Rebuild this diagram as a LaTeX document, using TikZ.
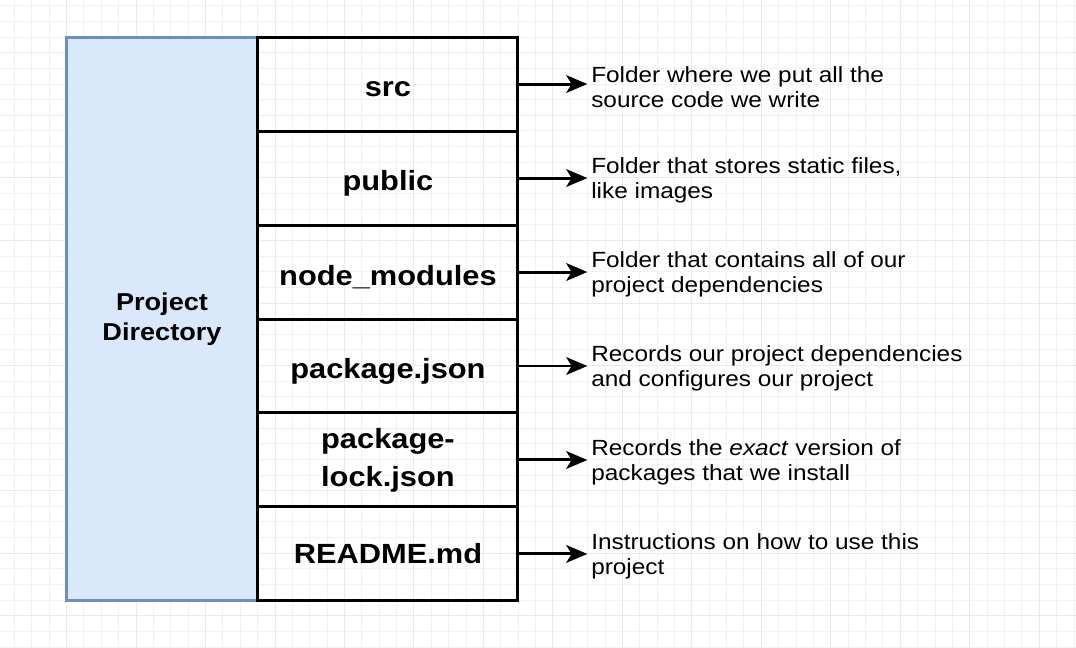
\documentclass[tikz,border=0pt]{standalone}
\usepackage{fontspec}
\setmainfont{Liberation Sans}[FakeStretch=1.11]
\usetikzlibrary{positioning,arrows.meta}

\definecolor{dirfill}{HTML}{DAE8FC}
\definecolor{dirline}{HTML}{6C8EBF}
\definecolor{gridminor}{HTML}{F2F2F2}
\definecolor{gridmajor}{HTML}{EAEAEA}

% lower a box label a little without changing the node size
\newcommand{\lowered}[1]{\raisebox{-3pt}[\height][\depth]{#1}}

\begin{document}
\begin{tikzpicture}[
      x=0.02cm, y=-0.02cm,
      node distance=0pt,
      folder/.style={
        rectangle, draw, line width=1.7pt,
        outer sep=0pt, inner sep=0pt,
        align=center,
        minimum width=5.2cm,
        minimum height=1.88cm,
        font=\fontsize{15.8}{21.6}\selectfont\bfseries
      },
      note/.style={
        align=left, inner sep=0pt, yshift=-1.5pt,
        font=\fontsize{12.5}{14.2}\selectfont
      },
      pointer/.style={-{Stealth[length=12pt,width=10pt,inset=3pt]}, line width=1.7pt, shorten >=2pt}
    ]

    \useasboundingbox (0,0) rectangle (1076,647);

    % background grid of the drawing canvas
    \foreach \k in {-3,...,58}
        \draw[gridminor, line width=0.5pt] ({66.5+17.37*\k},0) -- ++(0,647);
    \foreach \k in {-3,...,38}
        \draw[gridminor, line width=0.5pt] (0,{52.7+15.64*\k}) -- ++(1076,0);
    \foreach \k in {-1,...,14}
        \draw[gridmajor, line width=0.5pt] ({66.5+69.48*\k},0) -- ++(0,647);
    \foreach \k in {-1,...,9}
        \draw[gridmajor, line width=0.5pt] (0,{52.7+62.56*\k}) -- ++(1076,0);

    % left column
    \node[rectangle, draw=dirline, fill=dirfill, line width=1.7pt, outer sep=0pt,
          minimum width=3.84cm, minimum height=11.28cm, align=center,
          font=\fontsize{13.9}{17}\selectfont\bfseries] (dir) at (162,319)
        {Project\\Directory};

    % stacked folder boxes
    \node[folder, anchor=north west] (src) at (dir.north east) {\lowered{src}};
    \node[folder, below=of src] (public) {\lowered{public}};
    \node[folder, below=of public] (modules) {\lowered{node\_modules}};
    \node[folder, below=of modules] (pkg) {\lowered{package.json}};
    \node[folder, below=of pkg] (lock) {package-\\lock.json};
    \node[folder, below=of lock] (readme) {README.md};

    % descriptions
    \node[note, right=1.46cm of src.east] (srcnote)
        {Folder where we put all the\\source code we write};
    \node[note, right=1.46cm of public.east] (publicnote)
        {Folder that stores static files,\\like images};
    \node[note, right=1.46cm of modules.east] (modulesnote)
        {Folder that contains all of our\\project dependencies};
    \node[note, right=1.46cm of pkg.east] (pkgnote)
        {Records our project dependencies\\and configures our project};
    \node[note, right=1.46cm of lock.east] (locknote)
        {Records the \textit{exact} version of\\packages that we install};
    \node[note, right=1.46cm of readme.east] (readmenote)
        {Instructions on how to use this\\project};

    \draw[pointer] (src.east) -- (src.east -| srcnote.west);
    \draw[pointer] (public.east) -- (public.east -| publicnote.west);
    \draw[pointer] (modules.east) -- (modules.east -| modulesnote.west);
    \draw[pointer] (pkg.east) -- (pkg.east -| pkgnote.west);
    \draw[pointer] (lock.east) -- (lock.east -| locknote.west);
    \draw[pointer] (readme.east) -- (readme.east -| readmenote.west);
\end{tikzpicture}
\end{document}
